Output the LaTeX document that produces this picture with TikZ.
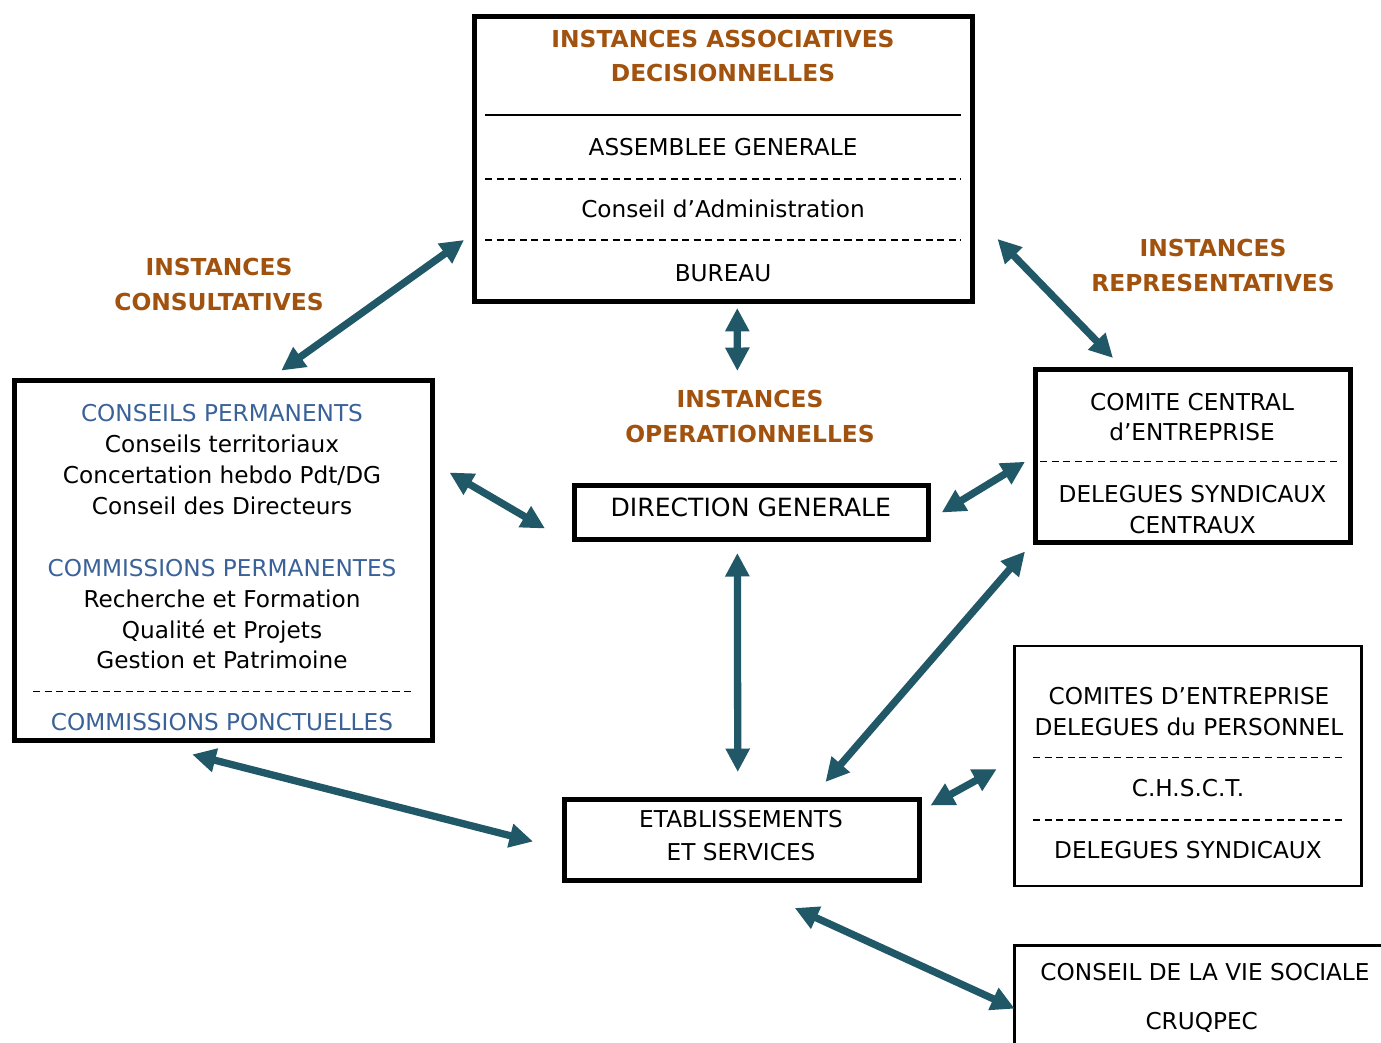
\documentclass[tikz,border=0pt]{standalone}
\usepackage{fontspec}
\setmainfont{DejaVu Sans}
\usetikzlibrary{arrows.meta,positioning}
\definecolor{instbrown}{RGB}{160,82,14}
\definecolor{instblue}{RGB}{58,98,152}
\definecolor{arrowteal}{RGB}{33,88,104}

\begin{document}
\begin{tikzpicture}[x=0.02cm,y=-0.02cm,
    box/.style={draw,line width=0.1cm,inner sep=0pt,outer sep=0pt},
    thinbox/.style={draw,line width=0.054cm,inner sep=0pt,outer sep=0pt},
    txt/.style={inner sep=0pt,anchor=base,font=\fontsize{13.2}{17.6}\selectfont},
    block/.style={inner sep=0pt,anchor=north,align=center,font=\fontsize{13.2}{17.6}\selectfont},
    heading/.style={inner sep=0pt,anchor=north,align=center,text=instbrown,font=\fontsize{13.3}{19.8}\selectfont\bfseries},
    sepline/.style={line width=0.9pt,dash pattern=on 4pt off 2.6pt},
    arrow/.style={arrowteal,line width=0.146cm,{Triangle[length=0.47cm,width=0.46cm]}-{Triangle[length=0.47cm,width=0.46cm]}}
]
    \useasboundingbox (0,0) rectangle (1381,1043);

    % Boxes
    \node[box,minimum width=9.97cm,minimum height=5.706cm] (assoc) at (723.25,159.35) {};
    \node[box,minimum width=8.37cm,minimum height=7.2cm] (consult) at (223.25,560.5) {};
    \node[box,minimum width=7.094cm,minimum height=1.1cm] (dg) at (751.35,512.5) {};
    \node[box,minimum width=6.32cm,minimum height=3.47cm] (cce) at (1193,455.75) {};
    \node[box,minimum width=7.11cm,minimum height=1.62cm] (ets) at (741.75,839.5) {};
    \node[thinbox,minimum width=6.93cm,minimum height=4.8cm] (ce) at (1187.95,766) {};
    \node[thinbox,minimum width=7.706cm,minimum height=2.294cm] (cvs) at (1207.35,1002.65) {};

    % Decision-making bodies
    \node[heading] (assoctitle) at (723,29.4) {INSTANCES ASSOCIATIVES\\DECISIONNELLES};
    \draw[line width=0.8pt] (485,115) -- (961,115);
    \node[txt] (ag) at (723,155.5) {ASSEMBLEE GENERALE};
    \node[txt] (ca) at (723,218) {Conseil d’Administration};
    \node[txt] (bureau) at (723,282) {BUREAU};
    \foreach \y in {179,240} \draw[sepline] (485,\y) -- (961,\y);

    % Consultative bodies
    \node[block] (consultlist) at (222,404) {\textcolor{instblue}{CONSEILS PERMANENTS}\\Conseils territoriaux\\Concertation hebdo Pdt/DG\\Conseil des Directeurs\\[17.6pt]\textcolor{instblue}{COMMISSIONS PERMANENTES}\\Recherche et Formation\\Qualité et Projets\\Gestion et Patrimoine};
    \draw[sepline] (33,691.7) -- (412,691.7);
    \node[txt,text=instblue] (ponct) at (222,730.7) {COMMISSIONS PONCTUELLES};

    % Group labels
    \node[heading] (lblconsult) at (219,258) {INSTANCES\\CONSULTATIVES};
    \node[heading] (lblrepr) at (1213,239) {INSTANCES\\REPRESENTATIVES};
    \node[heading] (lbloper) at (750,390) {INSTANCES\\OPERATIONNELLES};

    % Operational bodies
    \node[txt,font=\fontsize{14.3}{17}\selectfont] (dgtext) at (750.8,516.7) {DIRECTION GENERALE};
    \node[block,font=\fontsize{13.2}{18.5}\selectfont] (etstext) at (741,810) {ETABLISSEMENTS\\ET SERVICES};

    % Representative bodies
    \node[block] (ccetop) at (1192,392.5) {COMITE CENTRAL\\d’ENTREPRISE};
    \draw[sepline] (1040,461.7) -- (1340,461.7);
    \node[block] (ccebot) at (1192.5,485) {DELEGUES SYNDICAUX\\CENTRAUX};
    \node[block] (cetop) at (1189,687.3) {COMITES D’ENTREPRISE\\DELEGUES du PERSONNEL};
    \foreach \y in {757.3,820} \draw[sepline] (1033,\y) -- (1342,\y);
    \node[txt] (chsct) at (1188,796.7) {C.H.S.C.T.};
    \node[txt] (dsyn) at (1188,858.3) {DELEGUES SYNDICAUX};
    \node[txt] (cvsl) at (1205,980) {CONSEIL DE LA VIE SOCIALE};
    \node[txt] (cruqpec) at (1201.7,1029) {CRUQPEC};

    % Links
    \draw[arrow] ([shift={(-10,-62)}]assoc.south west) -- ([shift={(58,-10)}]consult.north);
    \draw[arrow] ([shift={(14,6)}]assoc.south) -- ([shift={(-14,-114)}]dg.north);
    \draw[arrow] ([shift={(25,-63)}]assoc.south east) -- ([shift={(-80,-11)}]cce.north);
    \draw[arrow] ([shift={(17,-88)}]consult.east) -- ([shift={(-29,16)}]dg.west);
    \draw[arrow] ([shift={(13,0)}]dg.east) -- ([shift={(-10,6)}]cce.west);
    \draw[arrow] ([shift={(-14,13)}]dg.south) -- ([shift={(-4,-27)}]ets.north);
    \draw[arrow] ([shift={(-94,-17)}]ets.north east) -- ([shift={(-10,9)}]cce.south west);
    \draw[arrow] ([shift={(-31,14)}]consult.south) -- ([shift={(-31,2)}]ets.west);
    \draw[arrow] ([shift={(11,-34)}]ets.east) -- ([shift={(-18,3)}]ce.west);
    \draw[arrow] ([shift={(53,28)}]ets.south) -- ([shift={(0,6)}]cvs.west);
\end{tikzpicture}
\end{document}
